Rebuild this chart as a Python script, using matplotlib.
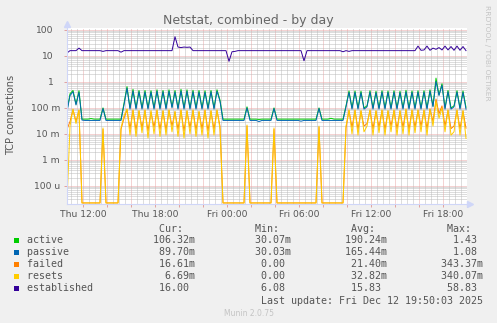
import numpy as np
import pandas as pd
import matplotlib
matplotlib.use("Agg")
import matplotlib.pyplot as plt
from matplotlib import transforms
from matplotlib.patches import Rectangle
from matplotlib.ticker import LogLocator
import matplotlib.dates as mdates

W, H = 497, 323

# 15 minute samples, Thu 10:40 -> Fri 19:55
times = pd.date_range("2025-12-11 10:40", periods=134, freq="15min")

active = [
    0.08, 0.35, 0.47, 0.14, 0.46, 0.037, 0.037, 0.037, 0.039, 0.037,
    0.037, 0.037, 0.10, 0.037, 0.037, 0.037, 0.037, 0.037, 0.037, 0.15,
    0.66, 0.10, 0.52, 0.10, 0.47, 0.10, 0.47, 0.10, 0.46, 0.10,
    0.50, 0.10, 0.47, 0.10, 0.50, 0.11, 0.47, 0.10, 0.52, 0.10,
    0.50, 0.10, 0.48, 0.10, 0.47, 0.10, 0.46, 0.10, 0.47, 0.10,
    0.50, 0.20, 0.037, 0.037, 0.037, 0.037, 0.037, 0.037, 0.037, 0.037,
    0.11, 0.037, 0.037, 0.037, 0.036, 0.037, 0.037, 0.037, 0.037, 0.10,
    0.037, 0.037, 0.037, 0.037, 0.037, 0.037, 0.037, 0.037, 0.037, 0.037,
    0.037, 0.037, 0.037, 0.037, 0.10, 0.037, 0.037, 0.037, 0.040, 0.037,
    0.037, 0.037, 0.037, 0.12, 0.45, 0.10, 0.45, 0.10, 0.44, 0.10,
    0.12, 0.46, 0.10, 0.44, 0.10, 0.46, 0.10, 0.45, 0.10, 0.46,
    0.10, 0.44, 0.10, 0.48, 0.10, 0.45, 0.10, 0.46, 0.10, 0.46,
    0.10, 0.50, 0.12, 1.40, 0.32, 0.85, 0.10, 0.47, 0.10, 0.12,
    0.46, 0.10, 0.45, 0.106,
]
passive = [
    0.07, 0.30, 0.42, 0.13, 0.40, 0.034, 0.033, 0.033, 0.033, 0.033,
    0.033, 0.033, 0.095, 0.033, 0.033, 0.033, 0.033, 0.033, 0.033, 0.13,
    0.58, 0.09, 0.45, 0.09, 0.42, 0.09, 0.41, 0.09, 0.41, 0.09,
    0.44, 0.09, 0.42, 0.09, 0.44, 0.10, 0.41, 0.09, 0.45, 0.09,
    0.44, 0.09, 0.42, 0.09, 0.41, 0.09, 0.40, 0.09, 0.42, 0.09,
    0.44, 0.18, 0.033, 0.033, 0.033, 0.033, 0.033, 0.033, 0.033, 0.033,
    0.10, 0.033, 0.033, 0.033, 0.030, 0.033, 0.033, 0.033, 0.033, 0.095,
    0.033, 0.033, 0.033, 0.033, 0.033, 0.033, 0.033, 0.033, 0.031, 0.033,
    0.033, 0.033, 0.033, 0.033, 0.095, 0.033, 0.033, 0.033, 0.033, 0.033,
    0.033, 0.033, 0.033, 0.11, 0.40, 0.09, 0.40, 0.09, 0.39, 0.09,
    0.11, 0.41, 0.09, 0.39, 0.09, 0.41, 0.09, 0.40, 0.09, 0.41,
    0.09, 0.39, 0.09, 0.42, 0.09, 0.40, 0.09, 0.41, 0.09, 0.41,
    0.09, 0.44, 0.11, 1.05, 0.30, 0.75, 0.09, 0.42, 0.09, 0.11,
    0.41, 0.09, 0.40, 0.09,
]
failed = [
    0.015, 0.03, 0.085, 0.03, 0.08, 0, 0, 0, 0, 0,
    0, 0, 0.015, 0, 0, 0, 0, 0, 0.015, 0.04,
    0.085, 0.016, 0.08, 0.014, 0.075, 0.017, 0.08, 0.013, 0.07, 0.018,
    0.08, 0.015, 0.075, 0.014, 0.08, 0.02, 0.07, 0.015, 0.08, 0.013,
    0.075, 0.017, 0.08, 0.014, 0.07, 0.016, 0.08, 0.013, 0.075, 0.015,
    0.08, 0.02, 0, 0, 0, 0, 0, 0, 0, 0,
    0.02, 0, 0, 0, 0, 0, 0, 0, 0, 0.015,
    0, 0, 0, 0, 0, 0, 0, 0, 0, 0,
    0, 0, 0, 0, 0.018, 0, 0, 0, 0, 0,
    0, 0, 0, 0.017, 0.08, 0.018, 0.08, 0.015, 0.075, 0.02,
    0.025, 0.08, 0.016, 0.075, 0.018, 0.08, 0.015, 0.075, 0.02, 0.08,
    0.016, 0.075, 0.018, 0.085, 0.015, 0.08, 0.018, 0.08, 0.02, 0.08,
    0.016, 0.09, 0.03, 0.22, 0.06, 0.12, 0.02, 0.08, 0.016, 0.02,
    0.08, 0.016, 0.075, 0.0166,
]
resets = [
    0, 0.02, 0.09, 0.025, 0.085, 0, 0, 0, 0, 0,
    0, 0, 0.017, 0, 0, 0, 0, 0, 0.017, 0.05,
    0.09, 0.009, 0.085, 0.008, 0.08, 0.011, 0.085, 0.007, 0.08, 0.01,
    0.085, 0.008, 0.08, 0.009, 0.085, 0.012, 0.075, 0.008, 0.085, 0.007,
    0.08, 0.01, 0.085, 0.008, 0.075, 0.009, 0.085, 0.007, 0.08, 0.009,
    0.085, 0.015, 0, 0, 0, 0, 0, 0, 0, 0,
    0.022, 0, 0, 0, 0, 0, 0, 0, 0, 0.017,
    0, 0, 0, 0, 0, 0, 0, 0, 0, 0,
    0, 0, 0, 0, 0.02, 0, 0, 0, 0, 0,
    0, 0, 0, 0.02, 0.085, 0.01, 0.085, 0.009, 0.08, 0.012,
    0.02, 0.085, 0.009, 0.08, 0.011, 0.085, 0.009, 0.08, 0.012, 0.085,
    0.009, 0.08, 0.01, 0.09, 0.009, 0.085, 0.011, 0.085, 0.012, 0.085,
    0.009, 0.09, 0.02, 0.18, 0.04, 0.10, 0.012, 0.085, 0.009, 0.012,
    0.085, 0.009, 0.08, 0.0067,
]
established = [
    13, 16, 16, 16, 20, 16, 16, 16, 16, 16,
    16, 16, 15, 16, 16, 16, 16, 16, 14, 16,
    16, 16, 16, 16, 16, 16, 16, 16, 16, 16,
    16, 16, 16, 16, 16, 16, 55, 22, 21, 22,
    21.5, 22, 16, 16, 16, 16, 16, 16, 16, 16,
    16, 16, 16, 16, 6.2, 14.5, 15, 16, 16, 16,
    16, 16, 16, 16, 16, 16, 16, 16, 16, 16,
    16, 16, 16, 16, 16, 16, 16, 16, 16, 6.5,
    16, 16, 16, 16, 16, 16, 16, 16, 16, 16,
    16, 16, 14.5, 16, 15, 16, 16, 16, 16, 16,
    16, 16, 16, 16, 16, 16, 16, 16, 16, 16,
    16, 16, 16, 16, 16, 16, 16, 24, 16.5, 17,
    24, 16.5, 20, 18, 21, 17, 24, 17, 23, 16.5,
    24, 16.5, 23, 16,
]

names = ["active", "passive", "failed", "resets", "established"]
colors = ["#00CC00", "#0066B3", "#FF8000", "#FFCC00", "#330099"]
cur_vals = ["106.32m", "89.70m", "16.61m", "6.69m", "16.00 "]
min_vals = ["30.07m", "30.03m", "0.00 ", "0.00 ", "6.08 "]
avg_vals = ["190.24m", "165.44m", "21.40m", "32.82m", "15.83 "]
max_vals = ["1.43 ", "1.08 ", "343.37m", "340.07m", "58.83 "]

ytick_vals = [1e2, 1e1, 1, 1e-1, 1e-2, 1e-3, 1e-4]
ytick_labels = ["100", "10", "1", "100 m", "10 m", "1 m", "100 u"]
xtick_times = pd.date_range("2025-12-11 12:00", periods=6, freq="6h")

ymin, ymax = 2.1e-5, 119
txt = "#555555"

fig = plt.figure(figsize=(W / 100, H / 100), dpi=100, facecolor="#F0F0F0")
ax = fig.add_axes([66.5 / W, 1 - 203.5 / H, 400.5 / W, 175.5 / H])
ax.set_facecolor("white")
ax.set_yscale("log")
ax.set_ylim(ymin, ymax)
ax.set_xlim(pd.Timestamp("2025-12-11 10:37:30"), pd.Timestamp("2025-12-12 20:00"))

ax.xaxis.set_major_locator(mdates.HourLocator(byhour=range(0, 24, 2)))
ax.xaxis.set_minor_locator(mdates.MinuteLocator(byminute=[0, 30]))
ax.yaxis.set_major_locator(LogLocator(base=10, numticks=20))
ax.yaxis.set_minor_locator(LogLocator(base=10, subs=np.arange(2, 10), numticks=20))
# rrdtool style dotted grid
ax.grid(which="minor", color="#BDBDBD", linestyle=(0, (1, 1)), linewidth=0.72)
ax.grid(which="major", color="#EBA8A8", linestyle=(0, (1, 1)), linewidth=0.72)
ax.set_axisbelow(True)
ax.tick_params(which="both", labelleft=False, labelbottom=False)
ax.tick_params(which="major", length=2, color="#E0A0A0", width=0.7)
ax.tick_params(which="minor", length=0)

for sp in ["top", "right"]:
    ax.spines[sp].set_visible(False)
for sp in ["left", "bottom"]:
    ax.spines[sp].set_color("#CFD6F8")
    ax.spines[sp].set_linewidth(0.8)

# zeros sit on the bottom of the log axis
floor = ymin * 1.05
for vals, c in zip([active, passive, failed, resets, established], colors):
    v = np.maximum(np.array(vals, dtype=float), floor)
    ax.plot(times, v, color=c, lw=0.7)

# axis arrows
ax.plot([0], [1 + 4 / 175.5], marker="^", ms=4, color="#CFD6F8",
        transform=ax.transAxes, clip_on=False)
ax.plot([1 + 3 / 400.5], [0], marker=">", ms=4, color="#CFD6F8",
        transform=ax.transAxes, clip_on=False)

# y tick labels
ytr = transforms.blended_transform_factory(fig.transFigure, ax.transData)
shift = transforms.ScaledTranslation(0, -3.4 / 100, fig.dpi_scale_trans)
for v, lab in zip(ytick_vals, ytick_labels):
    xr = 60 if " " in lab else 53.5
    ax.text(xr / W, v, lab, transform=ytr + shift, ha="right", va="baseline",
            fontsize=6.6, color=txt)

# x tick labels
xtr = transforms.blended_transform_factory(ax.transData, fig.transFigure)
for t in xtick_times:
    ax.text(t, 1 - 216.7 / H, t.strftime("%a %H:%M"), transform=xtr,
            ha="center", va="baseline", fontsize=6.6, color=txt)

fig.text(0.5, 1 - 24 / H, "Netstat, combined - by day", ha="center",
         va="baseline", fontsize=9, color="#666666")
fig.text(11 / W, 1 - 115 / H, "TCP connections", rotation=90, ha="center",
         va="center", fontsize=7, color=txt)
fig.text(487.5 / W, 1 - 5 / H, "RRDTOOL / TOBI OETIKER", rotation=270,
         ha="center", va="top", fontsize=5.4, color="#C4C4C4")

# legend block, monospace columns
mono = dict(family="DejaVu Sans Mono", fontsize=7.2, color=txt, ha="left", va="baseline")
x0 = 26.7 / W
header = " " * 22 + "Cur:" + " " * 12 + "Min:" + " " * 12 + "Avg:" + " " * 12 + "Max:"
fig.text(x0, 1 - 231.5 / H, header, **mono)
for k, (nm, c) in enumerate(zip(names, colors)):
    yb = 243 + 12 * k
    row = nm.ljust(12) + cur_vals[k].rjust(16) + min_vals[k].rjust(16) \
        + avg_vals[k].rjust(16) + max_vals[k].rjust(16)
    fig.text(x0, 1 - yb / H, row, **mono)
    fig.add_artist(Rectangle((14 / W, 1 - (yb - 0.5) / H), 5 / W, 5 / H,
                             transform=fig.transFigure, facecolor=c, edgecolor="none"))
last = "Last update: Fri Dec 12 19:50:03 2025"
fig.text(x0, 1 - 303.5 / H, last.rjust(76), **mono)
fig.text(0.5, 1 - 315.5 / H, "Munin 2.0.75", ha="center", va="baseline",
         fontsize=5.5, color="#C4C4C4")

fig.savefig("out.png", dpi=100, facecolor=fig.get_facecolor())
